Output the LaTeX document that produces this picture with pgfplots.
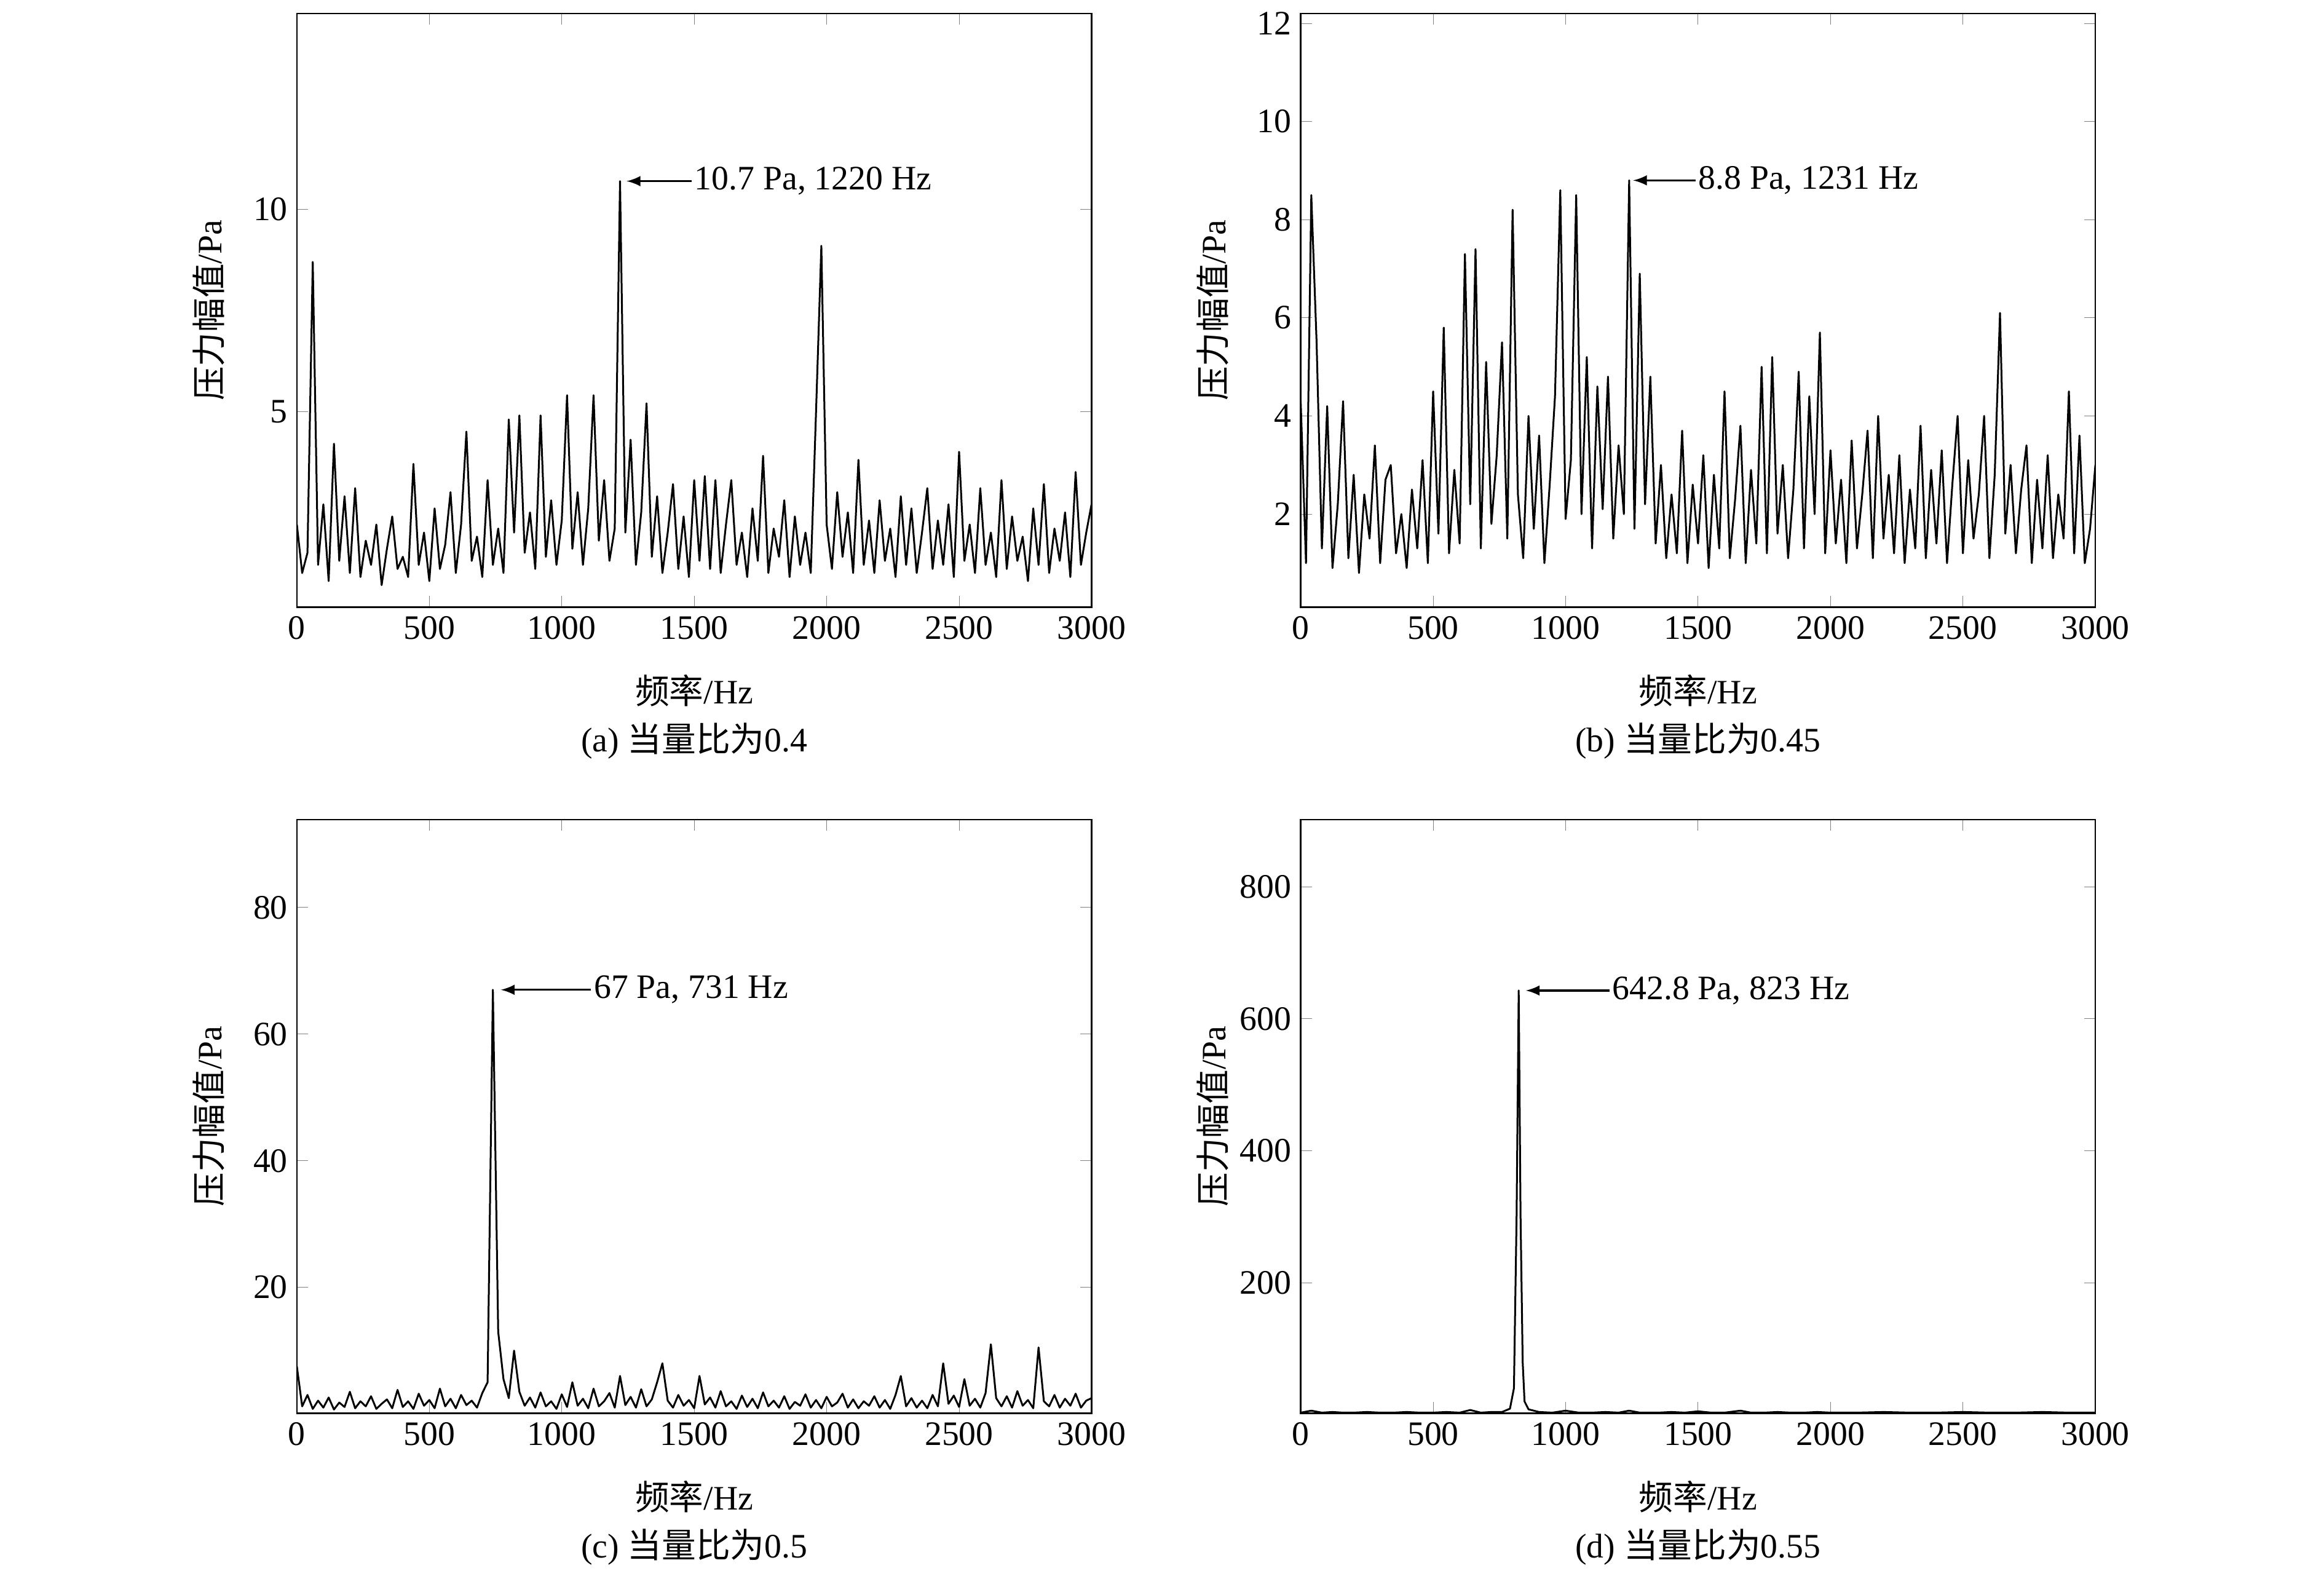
\documentclass[border=0pt]{standalone}
\usepackage{pgfplots}
\pgfplotsset{compat=1.18}
\usepackage{fontspec}
\setmainfont{Liberation Serif}
\newfontfamily\cjk{Noto Sans CJK SC}
\tikzset{ann/.style={font=\fontsize{13}{15}\selectfont, anchor=west, inner sep=1pt}}
\pgfplotsset{
  panel/.style={scale only axis, width=10.6cm, height=7.92cm, anchor=south west,
    xmin=0, xmax=3000, xtick={0,500,...,3000},
    tick align=inside, ticklabel style={font=\fontsize{13}{15}\selectfont},
    /pgf/number format/assume math mode=true,
    /pgf/number format/1000 sep={},
    xlabel={\cjk 频率\rmfamily /Hz}, ylabel={\cjk 压力幅值\rmfamily /Pa},
    label style={font=\fontsize{13}{15}\selectfont},
    xlabel style={at={(axis description cs:0.5,-0.14)},anchor=center},
    ylabel style={at={(axis description cs:-0.111,0.5)},anchor=center},
    scaled ticks=false, clip mode=individual, axis line style={line width=0.6pt}},
  spec/.style={black, line width=0.7pt, line join=round},
}
\begin{document}
\begin{tikzpicture}
\useasboundingbox (0,0) rectangle (31cm,-21.06cm);
% (a)
\begin{axis}[panel, at={(3.96cm,-8.1cm)}, ymin=0.15, ymax=14.85, ytick={5,10}]
\addplot[spec] table[x expr=\coordindex*20, y index=0, header=false, row sep=\\]{
2.2\\1.0\\1.5\\8.7\\1.2\\2.7\\0.8\\4.2\\1.3\\2.9\\
1.0\\3.1\\0.9\\1.8\\1.2\\2.2\\0.7\\1.6\\2.4\\1.1\\
1.4\\0.9\\3.7\\1.2\\2.0\\0.8\\2.6\\1.1\\1.7\\3.0\\
1.0\\2.2\\4.5\\1.3\\1.9\\0.9\\3.3\\1.2\\2.1\\1.0\\
4.8\\2.0\\4.9\\1.5\\2.5\\1.1\\4.9\\1.4\\2.8\\1.2\\
2.3\\5.4\\1.6\\3.0\\1.2\\2.6\\5.4\\1.8\\3.3\\1.3\\
2.1\\10.7\\2.0\\4.3\\1.2\\2.5\\5.2\\1.4\\2.9\\1.0\\
2.0\\3.2\\1.1\\2.4\\0.9\\3.3\\1.3\\3.4\\1.1\\3.3\\
1.0\\2.2\\3.3\\1.2\\2.0\\0.9\\2.6\\1.3\\3.9\\1.0\\
2.1\\1.4\\2.8\\0.9\\2.4\\1.2\\2.0\\1.0\\5.0\\9.1\\
2.2\\1.1\\3.0\\1.4\\2.5\\1.0\\3.8\\1.2\\2.3\\1.0\\
2.8\\1.3\\2.1\\0.9\\2.9\\1.2\\2.6\\1.0\\2.0\\3.1\\
1.1\\2.3\\1.2\\2.7\\0.9\\4.0\\1.3\\2.2\\1.0\\3.1\\
1.2\\2.0\\0.9\\3.3\\1.1\\2.4\\1.3\\1.9\\0.8\\2.6\\
1.2\\3.2\\1.0\\2.1\\1.3\\2.5\\0.9\\3.5\\1.2\\2.0\\2.7\\
};
\draw[-latex, line width=0.8pt] (axis cs:1490,10.7) -- (axis cs:1245,10.7);
\node[ann] at (axis cs:1490,10.7) {10.7 Pa, 1220 Hz};
\node[font=\fontsize{13}{15}\selectfont] at (axis description cs:0.5,-0.225) {(a) {\cjk 当量比为}0.4};
\end{axis}
% (b)
\begin{axis}[panel, at={(17.35cm,-8.1cm)}, ymin=0.1, ymax=12.2, ytick={2,4,...,12}]
\addplot[spec] table[x expr=\coordindex*20, y index=0, header=false, row sep=\\]{
4.3\\1.0\\8.5\\5.5\\1.3\\4.2\\0.9\\2.2\\4.3\\1.1\\
2.8\\0.8\\2.4\\1.5\\3.4\\1.0\\2.7\\3.0\\1.2\\2.0\\
0.9\\2.5\\1.3\\3.1\\1.0\\4.5\\1.6\\5.8\\1.2\\2.9\\
1.4\\7.3\\2.2\\7.4\\1.3\\5.1\\1.8\\3.2\\5.5\\1.5\\
8.2\\2.4\\1.1\\4.0\\1.7\\3.6\\1.0\\2.6\\4.4\\8.6\\
1.9\\3.1\\8.5\\2.0\\5.2\\1.3\\4.6\\2.1\\4.8\\1.5\\
3.4\\2.0\\8.8\\1.7\\6.9\\2.2\\4.8\\1.4\\3.0\\1.1\\
2.4\\1.2\\3.7\\1.0\\2.6\\1.4\\3.2\\0.9\\2.8\\1.3\\
4.5\\1.1\\2.3\\3.8\\1.0\\2.9\\1.4\\5.0\\1.2\\5.2\\
1.6\\3.0\\1.1\\2.5\\4.9\\1.3\\4.4\\2.0\\5.7\\1.2\\
3.3\\1.4\\2.7\\1.0\\3.5\\1.3\\2.4\\3.7\\1.1\\4.0\\
1.5\\2.8\\1.2\\3.2\\1.0\\2.5\\1.3\\3.8\\1.1\\2.9\\
1.4\\3.3\\1.0\\2.6\\4.0\\1.2\\3.1\\1.5\\2.4\\4.0\\
1.1\\2.8\\6.1\\1.6\\3.0\\1.2\\2.5\\3.4\\1.0\\2.7\\
1.3\\3.2\\1.1\\2.4\\1.5\\4.5\\1.2\\3.6\\1.0\\1.7\\3.0\\
};
\draw[-latex, line width=0.8pt] (axis cs:1490,8.8) -- (axis cs:1255,8.8);
\node[ann] at (axis cs:1490,8.8) {8.8 Pa, 1231 Hz};
\node[font=\fontsize{13}{15}\selectfont] at (axis description cs:0.5,-0.225) {(b) {\cjk 当量比为}0.45};
\end{axis}
% (c)
\begin{axis}[panel, at={(3.96cm,-18.85cm)}, ymin=0.1, ymax=93.9, ytick={20,40,...,80}]
\addplot[spec] table[x expr=\coordindex*20, y index=0, header=false, row sep=\\]{
7.5\\1.2\\3.0\\0.8\\2.1\\1.0\\2.6\\0.7\\1.8\\1.1\\
3.5\\0.9\\2.0\\1.2\\2.8\\0.8\\1.6\\2.3\\0.9\\3.8\\
1.1\\2.0\\0.8\\3.2\\1.3\\2.2\\0.9\\4.0\\1.2\\2.4\\
0.9\\3.0\\1.4\\2.1\\1.0\\3.3\\5.0\\67\\13\\5.5\\
2.5\\10.0\\3.5\\1.3\\2.6\\1.0\\3.4\\1.2\\2.0\\0.8\\
3.1\\1.1\\5.0\\1.3\\2.4\\0.9\\4.0\\1.2\\2.0\\3.3\\
1.0\\6.0\\1.4\\2.7\\1.0\\3.9\\1.2\\2.3\\5.0\\8.0\\
2.1\\1.0\\3.0\\1.3\\2.2\\0.9\\6.0\\1.5\\2.6\\1.0\\
3.6\\1.2\\2.0\\0.8\\2.9\\1.1\\2.4\\0.9\\3.4\\1.2\\
2.1\\1.0\\2.8\\0.8\\1.9\\1.3\\3.1\\1.0\\2.2\\0.9\\
2.7\\1.2\\1.8\\3.2\\1.0\\2.3\\0.9\\2.0\\1.3\\2.8\\
1.0\\2.2\\0.8\\3.0\\6.0\\1.2\\2.5\\1.0\\2.1\\0.9\\
3.0\\1.2\\8.0\\1.6\\2.9\\1.1\\5.5\\1.3\\2.4\\1.0\\
3.3\\11.0\\2.5\\1.2\\2.8\\1.0\\3.6\\1.3\\2.2\\0.9\\
10.5\\2.0\\1.2\\3.0\\1.0\\2.4\\1.3\\3.2\\1.0\\2.1\\2.5\\
};
\draw[-latex, line width=0.8pt] (axis cs:1110,67) -- (axis cs:770,67);
\node[ann] at (axis cs:1110,67) {67 Pa, 731 Hz};
\node[font=\fontsize{13}{15}\selectfont] at (axis description cs:0.5,-0.225) {(c) {\cjk 当量比为}0.5};
\end{axis}
% (d)
\begin{axis}[panel, at={(17.35cm,-18.85cm)}, ymin=2, ymax=902, ytick={200,400,...,800}]
\addplot[spec] coordinates {
(0,3)(40,6)(80,3)(120,4)(160,3)(200,3)(250,4)(300,3)(350,3)(400,4)(450,3)(500,3)(550,4)(600,3)(640,7)(680,3)(720,4)(760,4)(790,9)(805,40)(815,300)(823,642.8)(830,300)(838,80)(845,20)(860,8)(900,4)(950,3)(1000,6)(1050,3)(1100,3)(1150,4)(1200,3)(1240,6)(1280,3)(1350,3)(1400,4)(1450,3)(1500,5)(1550,3)(1600,3)(1660,6)(1700,3)(1750,3)(1800,4)(1850,3)(1900,3)(1950,4)(2000,3)(2100,3)(2200,4)(2300,3)(2400,3)(2500,4)(2600,3)(2700,3)(2800,4)(2900,3)(3000,3)
};
\draw[-latex, line width=0.8pt] (axis cs:1165,642.8) -- (axis cs:850,642.8);
\node[ann] at (axis cs:1165,642.8) {642.8 Pa, 823 Hz};
\node[font=\fontsize{13}{15}\selectfont] at (axis description cs:0.5,-0.225) {(d) {\cjk 当量比为}0.55};
\end{axis}
\end{tikzpicture}
\end{document}
